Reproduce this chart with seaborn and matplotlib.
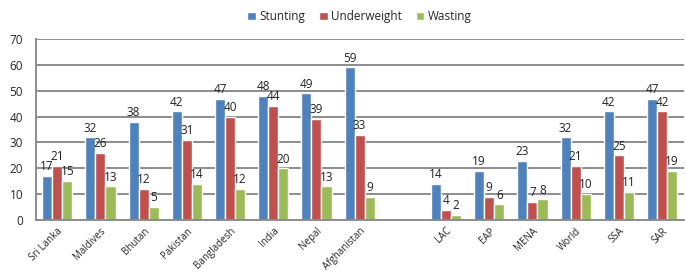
import matplotlib
matplotlib.use("Agg")
import matplotlib.pyplot as plt
import seaborn as sns
import pandas as pd
import numpy as np

# --- data ---
regions = ["Sri Lanka", "Maldives", "Bhutan", "Pakistan", "Bangladesh", "India",
           "Nepal", "Afghanistan", " ", "LAC", "EAP", "MENA", "World", "SSA", "SAR"]
stunting = [17, 32, 38, 42, 47, 48, 49, 59, np.nan, 14, 19, 23, 32, 42, 47]
underweight = [21, 26, 12, 31, 40, 44, 39, 33, np.nan, 4, 9, 7, 21, 25, 42]
wasting = [15, 13, 5, 14, 12, 20, 13, 9, np.nan, 2, 6, 8, 10, 11, 19]
series = ["Stunting", "Underweight", "Wasting"]
colors = ["#4F81BD", "#C0504D", "#9BBB59"]

df = pd.DataFrame({"Region": regions, "Stunting": stunting,
                   "Underweight": underweight, "Wasting": wasting})
df_long = df.melt(id_vars="Region", var_name="Indicator", value_name="Value")

sns.set_theme(style="white")
plt.rcParams["font.family"] = ["Open Sans", "DejaVu Sans"]
plt.rcParams["font.size"] = 7.5

fig = plt.figure(figsize=(6.85, 2.75), dpi=100)
ax = fig.add_axes([0.052, 0.2, 0.946, 0.658])

sns.barplot(data=df_long, x="Region", y="Value", hue="Indicator", order=regions,
            hue_order=series, palette=colors, width=0.7, saturation=1,
            errorbar=None, ax=ax)

# value labels on top of every bar
for c in ax.containers:
    labs = ["" if np.isnan(v) else f"{v:.0f}" for v in c.datavalues]
    ax.bar_label(c, labels=labs, padding=2, fontsize=8.5, color="#222222")

ax.set_ylim(0, 70)
ax.set_yticks(range(0, 71, 10))
ax.set_xlim(-0.5, len(regions) - 0.5)
ax.yaxis.grid(True, color="#8C8C8C", linewidth=1.4)
ax.set_axisbelow(True)
for s in ["top", "right"]:
    ax.spines[s].set_visible(False)
for s in ["left", "bottom"]:
    ax.spines[s].set_color("#8C8C8C")
    ax.spines[s].set_linewidth(1.4)

ax.set_xlabel("")
ax.set_ylabel("")
ax.set_xticks(range(len(regions)))
ax.set_xticklabels(regions, rotation=45, ha="right", rotation_mode="anchor", fontsize=7)
ax.set_xticks(np.arange(-0.5, len(regions), 1), minor=True)
ax.tick_params(axis="x", which="major", length=0, pad=4)
ax.tick_params(axis="x", which="minor", length=4, color="#8C8C8C", width=1.2, direction="out")
ax.tick_params(axis="y", length=0, labelsize=8.5, pad=9)

ax.legend(loc="lower center", bbox_to_anchor=(0.5, 1.06), ncol=3, frameon=False,
          fontsize=8.5, handlelength=0.7, handleheight=0.7, handletextpad=0.3,
          columnspacing=1.2, borderaxespad=0)

fig.savefig("out.png", dpi=100, facecolor="white")
